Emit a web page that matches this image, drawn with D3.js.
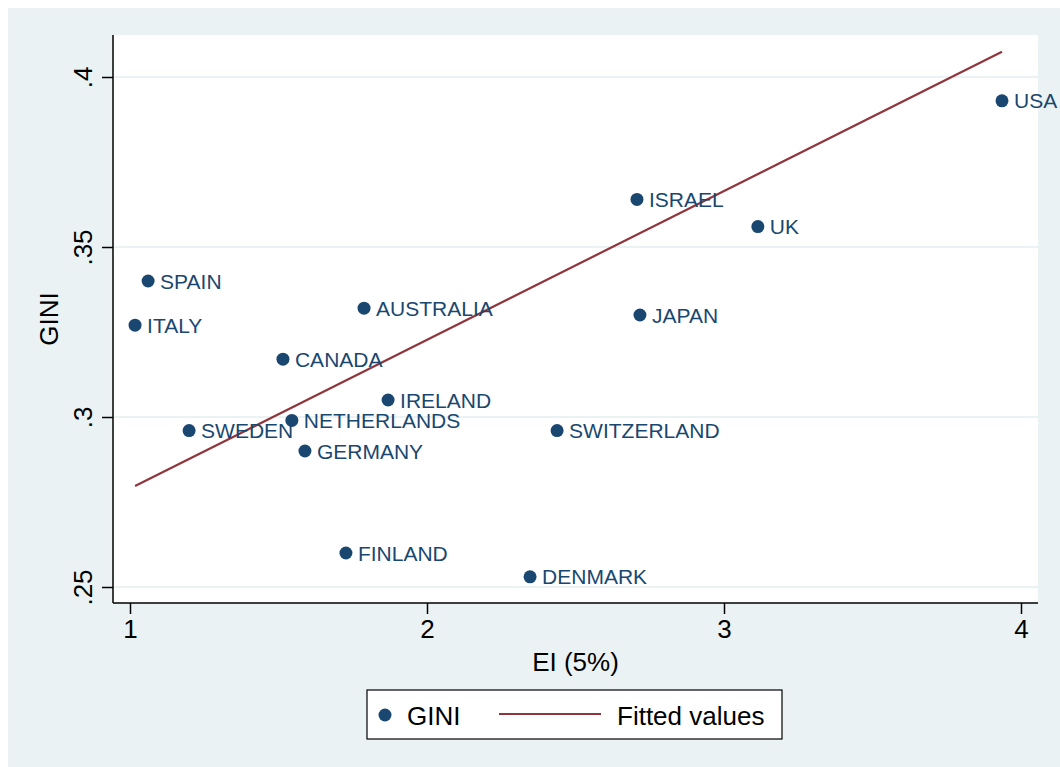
<!DOCTYPE html>
<html>
<head>
<meta charset="utf-8">
<script src="https://cdn.jsdelivr.net/npm/d3@7"></script>
<style>
  body { margin: 0; background: #fff; }
  svg { display: block; font-family: Arial, "Liberation Sans", Helvetica, sans-serif; }
</style>
</head>
<body>
<svg id="chart"></svg>
<script>
// data
const countries = ['USA', 'ISRAEL', 'UK', 'SPAIN', 'AUSTRALIA', 'JAPAN', 'ITALY', 'CANADA',
  'IRELAND', 'NETHERLANDS', 'SWEDEN', 'SWITZERLAND', 'GERMANY', 'FINLAND', 'DENMARK'];
const ei = [3.936, 2.707, 3.114, 1.061, 1.788, 2.717, 1.017, 1.515,
  1.869, 1.545, 1.199, 2.438, 1.589, 1.727, 2.347];
const gini = [0.393, 0.364, 0.356, 0.340, 0.332, 0.330, 0.327, 0.317,
  0.305, 0.299, 0.296, 0.296, 0.290, 0.260, 0.253];
// fitted values (endpoints of the regression line)
const fitX = [1.017, 3.936];
const fitY = [0.2797, 0.4074];
const xTicks = [1, 2, 3, 4];
const yTicks = [0.25, 0.3, 0.35, 0.4];
const yTickLabels = ['.25', '.3', '.35', '.4'];

const W = 1060, H = 767;
const navy = '#1a476f', maroon = '#90353b', bg = '#eaf2f3';

const svg = d3.select('#chart').attr('width', W).attr('height', H);

// outer background
svg.append('rect').attr('x', 8).attr('y', 8).attr('width', W - 8).attr('height', H - 8).attr('fill', bg);

// plot region
const pLeft = 113, pRight = 1038, pTop = 35, pBottom = 603;
svg.append('rect').attr('x', pLeft).attr('y', pTop)
  .attr('width', pRight - pLeft).attr('height', pBottom - pTop).attr('fill', '#fff');

const x = d3.scaleLinear().domain([1, 2]).range([130, 427]);
const y = d3.scaleLinear().domain([0.25, 0.4]).range([587, 77]);

// gridlines
svg.append('g').selectAll('line')
  .data(yTicks)
  .join('line')
  .attr('x1', pLeft).attr('x2', pRight)
  .attr('y1', d => y(d)).attr('y2', d => y(d))
  .attr('stroke', bg).attr('stroke-width', 2);

// axes
const xAxis = d3.axisBottom(x).tickValues(xTicks).tickFormat(d3.format('d'))
  .tickSize(11).tickSizeOuter(0).tickPadding(6);
const yAxis = d3.axisLeft(y).tickValues(yTicks).tickFormat((d, i) => yTickLabels[i])
  .tickSize(11).tickSizeOuter(0);

const gx = svg.append('g').attr('transform', `translate(0,${pBottom})`).call(xAxis);
gx.select('.domain').attr('d', `M${pLeft},0H${pRight}`);
gx.selectAll('.tick text').attr('font-size', 26).attr('fill', '#000')
  .attr('font-family', 'Arial, "Liberation Sans", sans-serif');
gx.selectAll('line, path').attr('stroke', '#000').attr('stroke-width', 1.5);

const gy = svg.append('g').attr('transform', `translate(${pLeft},0)`).call(yAxis);
gy.select('.domain').attr('d', `M0,${pTop}V${pBottom}`);
gy.selectAll('line, path').attr('stroke', '#000').attr('stroke-width', 1.5);
gy.selectAll('.tick text')
  .attr('font-size', 26).attr('fill', '#000')
  .attr('font-family', 'Arial, "Liberation Sans", sans-serif')
  .attr('x', null).attr('dy', null)
  .attr('text-anchor', 'middle')
  .attr('transform', 'translate(-21,0) rotate(-90)');

// axis titles
svg.append('text').attr('x', (pLeft + pRight) / 2).attr('y', 671)
  .attr('text-anchor', 'middle').attr('font-size', 26).text('EI (5%)');
svg.append('text').attr('transform', `translate(58,${(pTop + pBottom) / 2}) rotate(-90)`)
  .attr('text-anchor', 'middle').attr('font-size', 26).text('GINI');

// fitted line
const fitData = fitX.map((d, i) => [d, fitY[i]]);
svg.append('path')
  .datum(fitData)
  .attr('d', d3.line().x(d => x(d[0])).y(d => y(d[1])))
  .attr('fill', 'none').attr('stroke', maroon).attr('stroke-width', 2.2);

// points + labels
const pts = countries.map((c, i) => ({ name: c, x: ei[i], y: gini[i] }));
svg.append('g').selectAll('circle')
  .data(pts)
  .join('circle')
  .attr('cx', d => x(d.x)).attr('cy', d => y(d.y))
  .attr('r', 6.5).attr('fill', navy);

svg.append('g').selectAll('text')
  .data(pts)
  .join('text')
  .attr('x', d => x(d.x) + 12).attr('y', d => y(d.y) + 7.5)
  .attr('font-size', 21).attr('fill', navy)
  .text(d => d.name);

// legend
const lg = svg.append('g');
lg.append('rect').attr('x', 367).attr('y', 690).attr('width', 415).attr('height', 49)
  .attr('fill', '#fff').attr('stroke', '#000').attr('stroke-width', 1.2);
lg.append('circle').attr('cx', 385).attr('cy', 715).attr('r', 6.5).attr('fill', navy);
lg.append('text').attr('x', 407).attr('y', 725).attr('font-size', 26).text('GINI');
lg.append('line').attr('x1', 499).attr('x2', 601).attr('y1', 714).attr('y2', 714)
  .attr('stroke', maroon).attr('stroke-width', 2.2);
lg.append('text').attr('x', 617).attr('y', 725).attr('font-size', 26).text('Fitted values');
</script>
</body>
</html>
